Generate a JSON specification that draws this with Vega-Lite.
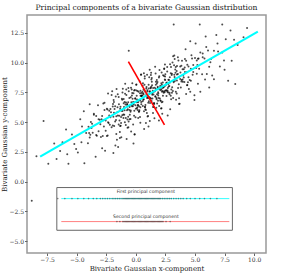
{
  "$schema": "https://vega.github.io/schema/vega-lite/v6.json",
  "autosize": {"type": "none"},
  "padding": {"left": 27, "top": 15, "right": 33, "bottom": 25},
  "width": 239,
  "height": 238,
  "title": {"text": "Principal components of a bivariate Gaussian distribution", "font": "DejaVu Serif", "fontSize": 7.6, "fontWeight": "normal", "color": "#222222", "offset": 3},
  "config": {
    "view": {"stroke": "#999999", "strokeWidth": 1.5},
    "axis": {"labelFont": "DejaVu Serif", "labelFontSize": 6, "labelColor": "#333333", "titleFont": "DejaVu Serif", "titleFontSize": 7, "titleFontWeight": "normal", "titleColor": "#222222", "tickSize": 2.5, "tickColor": "#666666", "domain": false, "grid": false, "labelPadding": 1, "labelOverlap": false, "labelFlush": false}
  },
  "datasets": {
    "pts": [
      {"x":-8.4,"y":2.14},{"x":-8.8,"y":-1.6},{"x":-7.8,"y":5.1},{"x":-7.4,"y":1.51},{"x":-6.9,"y":3.2},
      {"x":-6.4,"y":2.58},{"x":-5.9,"y":4.37},{"x":-5.7,"y":1.5},{"x":-6.2,"y":3.3},
      {"x":-5.4,"y":3.95},{"x":-4.9,"y":2.44},{"x":-4.7,"y":5.25},{"x":-5.2,"y":3.17},{"x":-4.55,"y":4.64},{"x":-5.05,"y":2.75},
      {"x":-4.4,"y":5.92},{"x":-3.9,"y":3.71},{"x":-3.7,"y":4.87},{"x":-4.2,"y":4.09},{"x":-3.55,"y":5.61},{"x":-4.05,"y":3.22},{"x":-3.8,"y":5.01},{"x":-4.35,"y":1.55},{"x":-4.0,"y":4.6},{"x":-3.65,"y":4.1},
      {"x":-3.4,"y":2.09},{"x":-2.9,"y":5.23},{"x":-2.7,"y":4.64},{"x":-3.2,"y":6.41},{"x":-2.55,"y":5.13},{"x":-3.05,"y":5.19},{"x":-2.8,"y":3.83},{"x":-3.35,"y":5.52},{"x":-3.0,"y":4.82},{"x":-2.65,"y":6.62},{"x":-3.15,"y":4.23},{"x":-2.75,"y":5.16},{"x":-3.3,"y":3.85},{"x":-2.85,"y":5.51},
      {"x":-2.4,"y":6.06},{"x":-1.9,"y":5.45},{"x":-1.7,"y":7.16},{"x":-2.2,"y":4.78},{"x":-1.55,"y":5.85},{"x":-2.05,"y":4.56},{"x":-1.8,"y":6.1},{"x":-2.35,"y":4.99},{"x":-2.0,"y":7.59},{"x":-1.65,"y":3.99},{"x":-2.15,"y":5.4},{"x":-1.75,"y":6.33},{"x":-2.3,"y":4.92},{"x":-1.85,"y":6.68},{"x":-1.6,"y":3.52},{"x":-2.25,"y":5.55},{"x":-1.95,"y":4.72},{"x":-2.45,"y":6.13},{"x":-1.52,"y":5.56},{"x":-2.1,"y":5.83},{"x":-2.38,"y":3.87},{"x":-1.88,"y":6.86},{"x":-1.68,"y":5.17},
      {"x":-1.4,"y":5.53},{"x":-0.9,"y":8.22},{"x":-0.7,"y":4.53},{"x":-1.2,"y":5.95},{"x":-0.55,"y":7.02},{"x":-1.05,"y":5.63},{"x":-0.8,"y":7.27},{"x":-1.35,"y":3.66},{"x":-1.0,"y":6.26},{"x":-0.65,"y":5.46},{"x":-1.15,"y":6.87},{"x":-0.75,"y":6.0},{"x":-1.3,"y":6.29},{"x":-0.85,"y":4.75},{"x":-0.6,"y":7.59},{"x":-1.25,"y":5.42},{"x":-0.95,"y":6.69},{"x":-1.45,"y":4.8},{"x":-0.52,"y":6.38},{"x":-1.1,"y":7.8},{"x":-1.38,"y":5.14},{"x":-0.88,"y":6.48},{"x":-0.68,"y":6.09},{"x":-1.18,"y":6.96},{"x":-0.53,"y":5.23},{"x":-1.03,"y":6.59},{"x":-0.78,"y":3.59},{"x":-1.33,"y":6.12},{"x":-0.98,"y":5.62},{"x":-0.63,"y":7.87},{"x":-1.13,"y":5.94},{"x":-0.73,"y":6.52},{"x":-1.28,"y":4.7},
      {"x":-0.4,"y":4.2},{"x":0.1,"y":6.89},{"x":0.3,"y":6.0},{"x":-0.2,"y":7.42},{"x":0.45,"y":6.69},{"x":-0.05,"y":7.0},{"x":0.2,"y":5.34},{"x":-0.35,"y":7.73},{"x":0.0,"y":6.13},{"x":0.35,"y":7.43},{"x":-0.15,"y":5.54},{"x":0.25,"y":6.82},{"x":-0.3,"y":8.26},{"x":0.15,"y":6.02},{"x":0.4,"y":7.21},{"x":-0.25,"y":6.34},{"x":0.05,"y":7.66},{"x":-0.45,"y":5.27},{"x":0.48,"y":7.45},{"x":-0.1,"y":3.97},{"x":-0.38,"y":6.66},{"x":0.13,"y":6.25},{"x":0.33,"y":8.41},{"x":-0.18,"y":6.48},{"x":0.47,"y":7.2},{"x":-0.03,"y":5.41},{"x":0.23,"y":7.56},{"x":-0.33,"y":6.34},{"x":0.03,"y":8.14},{"x":0.38,"y":6.24},{"x":-0.13,"y":6.66},{"x":0.28,"y":5.89},{"x":-0.28,"y":6.97},{"x":0.18,"y":6.43},{"x":0.43,"y":8.97},{"x":-0.23,"y":4.8},{"x":0.08,"y":6.67},{"x":-0.43,"y":7.09},{"x":0.46,"y":6.49},{"x":-0.08,"y":7.69},{"x":0.38,"y":4.95},
      {"x":0.6,"y":8.27},{"x":1.1,"y":6.76},{"x":1.3,"y":7.97},{"x":0.8,"y":6.09},{"x":1.45,"y":7.51},{"x":0.95,"y":8.97},{"x":1.2,"y":6.61},{"x":0.65,"y":7.35},{"x":1.0,"y":7.05},{"x":1.35,"y":8.4},{"x":0.85,"y":6.01},{"x":1.25,"y":7.89},{"x":0.7,"y":4.43},{"x":1.15,"y":7.54},{"x":1.4,"y":6.98},{"x":0.75,"y":8.66},{"x":1.05,"y":7.18},{"x":0.55,"y":7.24},{"x":1.48,"y":6.27},{"x":0.9,"y":7.94},{"x":0.63,"y":6.88},{"x":1.13,"y":8.77},{"x":1.33,"y":6.78},{"x":0.83,"y":7.2},{"x":1.47,"y":6.57},{"x":0.98,"y":7.68},{"x":1.23,"y":7.03},{"x":0.68,"y":9.11},{"x":1.03,"y":5.51},{"x":1.38,"y":7.41},{"x":0.88,"y":7.83},{"x":1.28,"y":6.96},{"x":0.73,"y":8.14},{"x":1.18,"y":5.1},{"x":1.43,"y":7.64},{"x":0.78,"y":6.27},{"x":1.08,"y":8.14},{"x":0.58,"y":6.76},{"x":1.46,"y":7.86},{"x":0.93,"y":5.76},{"x":0.61,"y":7.43},{"x":1.11,"y":7.01},{"x":1.31,"y":8.57},{"x":0.81,"y":6.44},
      {"x":1.6,"y":7.89},{"x":2.1,"y":7.68},{"x":2.3,"y":8.94},{"x":1.8,"y":6.56},{"x":2.45,"y":8.58},{"x":1.95,"y":5.14},{"x":2.2,"y":8.13},{"x":1.65,"y":7.12},{"x":2.0,"y":9.37},{"x":2.35,"y":7.92},{"x":1.85,"y":7.98},{"x":2.25,"y":6.71},{"x":1.7,"y":8.4},{"x":2.15,"y":7.76},{"x":2.4,"y":9.5},{"x":1.75,"y":7.03},{"x":2.05,"y":7.9},{"x":1.55,"y":6.61},{"x":2.48,"y":8.54},{"x":1.9,"y":7.41},{"x":1.63,"y":9.65},{"x":2.13,"y":6.14},{"x":2.33,"y":7.95},{"x":1.83,"y":8.37},{"x":2.47,"y":7.64},{"x":1.98,"y":8.85},{"x":2.23,"y":5.7},{"x":1.68,"y":7.78},{"x":2.03,"y":6.98},{"x":2.38,"y":8.88},{"x":1.88,"y":7.5},{"x":2.28,"y":8.33},{"x":1.73,"y":6.21},{"x":2.18,"y":9.17},{"x":2.43,"y":7.51},{"x":1.78,"y":8.24},{"x":2.08,"y":6.81},{"x":1.58,"y":7.58},{"x":2.46,"y":9.83},{"x":1.93,"y":7.03},{"x":2.21,"y":7.54},
      {"x":2.6,"y":7.66},{"x":3.1,"y":10.0},{"x":3.3,"y":8.46},{"x":2.8,"y":8.53},{"x":3.45,"y":7.4},{"x":2.95,"y":9.11},{"x":3.2,"y":8.35},{"x":2.65,"y":9.64},{"x":3.0,"y":7.74},{"x":3.35,"y":8.64},{"x":2.85,"y":7.35},{"x":3.25,"y":8.98},{"x":2.7,"y":7.87},{"x":3.15,"y":10.53},{"x":3.4,"y":6.87},{"x":2.75,"y":8.2},{"x":3.05,"y":9.07},{"x":2.55,"y":7.68},{"x":3.48,"y":9.71},{"x":2.9,"y":6.08},{"x":2.63,"y":8.32},{"x":3.13,"y":7.61},{"x":3.33,"y":9.42},{"x":2.83,"y":8.04},{"x":3.47,"y":9.01},{"x":2.98,"y":6.92},{"x":3.23,"y":9.77},{"x":2.68,"y":7.65},{"x":3.03,"y":8.95},{"x":3.38,"y":7.55},{"x":2.88,"y":8.32},{"x":3.28,"y":10.3},{"x":2.73,"y":7.48},
      {"x":3.6,"y":10.18},{"x":4.1,"y":8.37},{"x":4.3,"y":9.18},{"x":3.8,"y":7.9},{"x":4.45,"y":9.67},{"x":3.95,"y":8.58},{"x":4.2,"y":11.12},{"x":3.65,"y":7.01},{"x":4.0,"y":8.91},{"x":4.35,"y":9.81},{"x":3.85,"y":8.42},{"x":4.25,"y":10.15},{"x":3.7,"y":6.54},{"x":4.15,"y":9.2},{"x":4.4,"y":8.34},{"x":3.75,"y":9.67},{"x":4.05,"y":8.74},{"x":3.55,"y":9.05},{"x":4.48,"y":7.78},{"x":3.9,"y":10.15},{"x":3.63,"y":8.19},{"x":4.13,"y":9.58},{"x":4.33,"y":8.09},
      {"x":4.6,"y":7.55},{"x":5.1,"y":9.54},{"x":5.3,"y":10.35},{"x":4.8,"y":8.97},{"x":5.45,"y":10.84},{"x":4.95,"y":7.25},{"x":5.2,"y":9.79},{"x":4.65,"y":8.48},{"x":5.0,"y":10.38},{"x":5.35,"y":9.48},{"x":4.85,"y":9.79},{"x":5.25,"y":8.22},{"x":4.7,"y":10.61},{"x":5.15,"y":9.07},
      {"x":5.6,"y":9.02},{"x":6.1,"y":11.01},{"x":6.3,"y":10.02},{"x":5.8,"y":10.34},{"x":6.45,"y":8.91},{"x":5.95,"y":11.32},{"x":6.2,"y":9.66},{"x":5.65,"y":10.45},{"x":6.0,"y":9.05},{"x":6.35,"y":10.3},
      {"x":6.6,"y":10.99},{"x":7.1,"y":9.68},{"x":7.3,"y":10.84},{"x":6.8,"y":12.31},{"x":7.45,"y":10.18},{"x":6.95,"y":10.94},
      {"x":7.6,"y":11.96},{"x":8.1,"y":10.15},{"x":8.3,"y":11.91},{"x":7.8,"y":8.48},{"x":8.6,"y":11.48},{"x":9.1,"y":12.12},
      {"x":9.4,"y":12.9},{"x":3.2,"y":13.2},{"x":5.4,"y":13.2},{"x":7.3,"y":13.2},{"x":-0.6,"y":11.0},{"x":-1.9,"y":2.4},{"x":-0.2,"y":3.2},{"x":-1.5,"y":2.9},{"x":8.4,"y":8.2},{"x":7.5,"y":9.4},{"x":6.6,"y":8.6},
      {"x":5.9,"y":12.2},{"x":6.9,"y":11.6},{"x":8.0,"y":12.7},{"x":4.6,"y":11.8},{"x":6.2,"y":7.9},{"x":-5.8,"y":2.3},{"x":-6.7,"y":1.9},{"x":-4.6,"y":3.3},{"x":-3.9,"y":6.5},{"x":-2.6,"y":2.6},
      {"x":-2.95,"y":3.75},{"x":-2.75,"y":6.57},{"x":-2.55,"y":4.28},{"x":-2.35,"y":7.4},{"x":-2.15,"y":6.1},{"x":-2.85,"y":2.8},{"x":-2.65,"y":6.02},{"x":-2.45,"y":3.84},{"x":-2.25,"y":5.95},{"x":-2.05,"y":7.27},
      {"x":-1.95,"y":6.32},{"x":-1.75,"y":5.04},{"x":-1.55,"y":6.25},{"x":-1.35,"y":4.17},{"x":-1.15,"y":5.58},{"x":-1.85,"y":5.78},{"x":-1.65,"y":5.49},{"x":-1.45,"y":7.11},{"x":-1.25,"y":4.92},{"x":-1.05,"y":5.34},{"x":-1.93,"y":6.52},{"x":-1.73,"y":3.04},{"x":-1.53,"y":7.35},{"x":-1.33,"y":4.67},{"x":-1.13,"y":7.48},{"x":-1.83,"y":4.68},{"x":-1.63,"y":7.79},{"x":-1.43,"y":6.51},{"x":-1.23,"y":3.72},{"x":-1.03,"y":6.94},
      {"x":-0.95,"y":5.99},{"x":-0.75,"y":6.31},{"x":-0.55,"y":6.02},{"x":-0.35,"y":6.44},{"x":-0.15,"y":7.65},{"x":-0.85,"y":5.35},{"x":-0.65,"y":6.66},{"x":-0.45,"y":5.88},{"x":-0.25,"y":6.54},{"x":-0.05,"y":6.96},{"x":-0.93,"y":4.99},{"x":-0.73,"y":6.46},{"x":-0.53,"y":6.27},{"x":-0.33,"y":7.24},{"x":-0.13,"y":5.95},{"x":-0.83,"y":6.65},{"x":-0.63,"y":4.56},{"x":-0.43,"y":5.98},{"x":-0.23,"y":6.69},{"x":-0.03,"y":6.41},{"x":-0.91,"y":7.39},{"x":-0.71,"y":5.21},{"x":-0.51,"y":5.62},{"x":-0.31,"y":7.44},{"x":-0.11,"y":3.95},{"x":-0.81,"y":7.75},{"x":-0.61,"y":5.06},{"x":-0.41,"y":7.88},
      {"x":0.05,"y":8.16},{"x":0.25,"y":5.88},{"x":0.45,"y":8.99},{"x":0.65,"y":7.71},{"x":0.85,"y":4.92},{"x":0.15,"y":7.62},{"x":0.35,"y":5.43},{"x":0.55,"y":7.55},{"x":0.75,"y":8.86},{"x":0.95,"y":7.03},{"x":0.07,"y":7.21},{"x":0.27,"y":6.33},{"x":0.47,"y":7.19},{"x":0.67,"y":6.91},{"x":0.87,"y":7.22},{"x":0.17,"y":6.42},{"x":0.37,"y":6.83},{"x":0.57,"y":8.05},{"x":0.77,"y":6.26},{"x":0.97,"y":7.58},{"x":0.09,"y":6.16},{"x":0.29,"y":6.83},{"x":0.49,"y":7.24},{"x":0.69,"y":5.91},{"x":0.89,"y":7.37},{"x":0.19,"y":6.67},{"x":0.39,"y":7.63},{"x":0.59,"y":6.35},{"x":0.79,"y":7.56},{"x":0.99,"y":5.48},
      {"x":1.05,"y":6.63},{"x":1.25,"y":7.85},{"x":1.45,"y":5.76},{"x":1.65,"y":7.18},{"x":1.85,"y":7.89},{"x":1.15,"y":7.09},{"x":1.35,"y":8.7},{"x":1.55,"y":6.52},{"x":1.75,"y":6.93},{"x":1.95,"y":8.75},{"x":1.07,"y":4.63},{"x":1.27,"y":8.95},{"x":1.47,"y":6.26},{"x":1.67,"y":9.08},{"x":1.87,"y":6.79},{"x":1.17,"y":9.39},{"x":1.37,"y":8.1},{"x":1.57,"y":5.32},{"x":1.77,"y":8.53},{"x":1.97,"y":6.35},{"x":1.09,"y":7.83},{"x":1.29,"y":9.15},{"x":1.49,"y":7.31},{"x":1.69,"y":8.13},{"x":1.89,"y":7.24},{"x":1.19,"y":7.59},{"x":1.39,"y":7.3},{"x":1.59,"y":7.62},{"x":1.79,"y":7.33},{"x":1.99,"y":7.75},
      {"x":2.05,"y":7.9},{"x":2.25,"y":7.62},{"x":2.45,"y":8.03},{"x":2.65,"y":9.25},{"x":2.85,"y":7.46},{"x":2.15,"y":8.26},{"x":2.35,"y":7.47},{"x":2.55,"y":8.14},{"x":2.75,"y":8.55},{"x":2.95,"y":7.22},{"x":2.07,"y":8.05},{"x":2.27,"y":7.87},{"x":2.47,"y":8.83},{"x":2.67,"y":7.55},{"x":2.87,"y":8.76},{"x":2.17,"y":6.16},{"x":2.37,"y":7.57},{"x":2.57,"y":8.29},{"x":2.77,"y":8.0},{"x":2.97,"y":9.62},{"x":2.09,"y":6.8},{"x":2.29,"y":7.22},{"x":2.49,"y":9.03},{"x":2.69,"y":5.55},{"x":2.89,"y":9.86},{"x":2.19,"y":6.66},{"x":2.39,"y":9.47},{"x":2.59,"y":7.19},
      {"x":3.05,"y":7.47},{"x":3.25,"y":10.59},{"x":3.45,"y":9.3},{"x":3.65,"y":6.52},{"x":3.85,"y":9.73},{"x":3.15,"y":7.03},{"x":3.35,"y":9.14},{"x":3.55,"y":10.46},{"x":3.75,"y":8.62},{"x":3.95,"y":9.44},{"x":3.07,"y":7.92},{"x":3.27,"y":8.79},{"x":3.47,"y":8.5},{"x":3.67,"y":8.82},{"x":3.87,"y":8.53},{"x":3.17,"y":8.43},{"x":3.37,"y":9.64},{"x":3.57,"y":7.86},{"x":3.77,"y":9.17},{"x":3.97,"y":8.39},
      {"x":4.05,"y":9.44},{"x":4.25,"y":7.36},{"x":4.45,"y":8.77},{"x":4.65,"y":9.49},{"x":4.85,"y":9.2},{"x":4.15,"y":10.3},{"x":4.35,"y":8.11},{"x":4.55,"y":8.53},{"x":4.75,"y":10.34},{"x":4.95,"y":6.86},
      {"x":-3.95,"y":4.08},{"x":-3.75,"y":4.5},{"x":-3.55,"y":5.71},{"x":-3.35,"y":3.92},{"x":-3.15,"y":5.24},{"x":-3.85,"y":3.94},
      {"x":5.05,"y":11.61},{"x":5.25,"y":10.33},{"x":5.45,"y":7.54},{"x":5.65,"y":10.76},{"x":5.85,"y":8.57},{"x":5.15,"y":10.17}
    ],
    "proj": [
      {"x":-6.6,"y":-1.43},{"x":-6.0,"y":-1.43},{"x":-5.4,"y":-1.43},{"x":-4.9,"y":-1.43},{"x":-4.4,"y":-1.43},{"x":-4.0,"y":-1.43},{"x":-3.6,"y":-1.43},{"x":-3.3,"y":-1.43},{"x":-3.0,"y":-1.43},{"x":-2.8,"y":-1.43},{"x":-2.6,"y":-1.43},{"x":-2.4,"y":-1.43},{"x":-2.2,"y":-1.43},{"x":-2.0,"y":-1.43},{"x":-1.85,"y":-1.43},{"x":-1.7,"y":-1.43},{"x":-1.55,"y":-1.43},{"x":-1.4,"y":-1.43},{"x":-1.25,"y":-1.43},{"x":-1.1,"y":-1.43},{"x":-1.0,"y":-1.43},{"x":-0.9,"y":-1.43},{"x":-0.8,"y":-1.43},{"x":-0.7,"y":-1.43},{"x":-0.6,"y":-1.43},{"x":-0.5,"y":-1.43},{"x":-0.4,"y":-1.43},{"x":-0.3,"y":-1.43},{"x":-0.2,"y":-1.43},{"x":-0.1,"y":-1.43},{"x":0.0,"y":-1.43},{"x":0.1,"y":-1.43},{"x":0.2,"y":-1.43},{"x":0.3,"y":-1.43},{"x":0.4,"y":-1.43},{"x":0.5,"y":-1.43},{"x":0.6,"y":-1.43},{"x":0.7,"y":-1.43},{"x":0.8,"y":-1.43},{"x":0.9,"y":-1.43},{"x":1.0,"y":-1.43},{"x":1.1,"y":-1.43},{"x":1.2,"y":-1.43},{"x":1.3,"y":-1.43},{"x":1.4,"y":-1.43},{"x":1.5,"y":-1.43},{"x":1.6,"y":-1.43},{"x":1.7,"y":-1.43},{"x":1.8,"y":-1.43},{"x":1.9,"y":-1.43},{"x":2.0,"y":-1.43},{"x":2.1,"y":-1.43},{"x":2.25,"y":-1.43},{"x":2.4,"y":-1.43},{"x":2.55,"y":-1.43},{"x":2.7,"y":-1.43},{"x":2.85,"y":-1.43},{"x":3.0,"y":-1.43},{"x":3.2,"y":-1.43},{"x":3.4,"y":-1.43},{"x":3.6,"y":-1.43},{"x":3.8,"y":-1.43},{"x":4.0,"y":-1.43},{"x":4.3,"y":-1.43},{"x":4.6,"y":-1.43},{"x":5.0,"y":-1.43},{"x":5.4,"y":-1.43},{"x":5.8,"y":-1.43},{"x":6.3,"y":-1.43},{"x":6.85,"y":-1.43},
      {"x":-1.6,"y":-3.36},{"x":-1.35,"y":-3.36},{"x":-1.1,"y":-3.36},{"x":-1.0,"y":-3.36},{"x":-0.9,"y":-3.36},{"x":-0.8,"y":-3.36},{"x":-0.7,"y":-3.36},{"x":-0.6,"y":-3.36},{"x":-0.5,"y":-3.36},{"x":-0.4,"y":-3.36},{"x":-0.3,"y":-3.36},{"x":-0.2,"y":-3.36},{"x":-0.1,"y":-3.36},{"x":0.0,"y":-3.36},{"x":0.1,"y":-3.36},{"x":0.2,"y":-3.36},{"x":0.3,"y":-3.36},{"x":0.4,"y":-3.36},{"x":0.5,"y":-3.36},{"x":0.6,"y":-3.36},{"x":0.7,"y":-3.36},{"x":0.8,"y":-3.36},{"x":0.9,"y":-3.36},{"x":1.0,"y":-3.36},{"x":1.1,"y":-3.36},{"x":1.2,"y":-3.36},{"x":1.3,"y":-3.36},{"x":1.4,"y":-3.36},{"x":1.5,"y":-3.36},{"x":1.6,"y":-3.36},{"x":1.7,"y":-3.36},{"x":1.8,"y":-3.36},{"x":1.9,"y":-3.36},{"x":2.0,"y":-3.36},{"x":2.1,"y":-3.36},{"x":2.2,"y":-3.36},{"x":2.3,"y":-3.36},{"x":2.55,"y":-3.36},{"x":2.9,"y":-3.36}
    ]
  },
  "encoding": {
    "x": {"field": "x", "type": "quantitative", "scale": {"domain": [-9.2, 11.0], "nice": false, "zero": false}, "axis": {"values": [-7.5, -5, -2.5, 0, 2.5, 5, 7.5, 10], "format": ".1f", "title": "Bivariate Gaussian x-component", "titlePadding": 1.5, "labelOverlap": false}},
    "y": {"field": "y", "type": "quantitative", "scale": {"domain": [-6.0, 14.0], "nice": false, "zero": false}, "axis": {"values": [-5, -2.5, 0, 2.5, 5, 7.5, 10, 12.5], "format": ".1f", "title": "Bivariate Gaussian y-component", "titlePadding": 1, "labelOverlap": false}}
  },
  "layer": [
    {
      "data": {"name": "pts"},
      "mark": {"type": "circle", "size": 4, "color": "black", "opacity": 0.7}
    },
    {
      "data": {"values": [{"x": -8.09, "y": 2.1}, {"x": 10.31, "y": 12.6}]},
      "mark": {"type": "line", "color": "#00ffff", "strokeWidth": 2.2}
    },
    {
      "data": {"values": [{"x": -0.63, "y": 10.08}, {"x": 2.42, "y": 4.76}]},
      "mark": {"type": "line", "color": "#ff0000", "strokeWidth": 1.6}
    },
    {
      "data": {"values": [{"x": -6.68, "x2": 8.16, "y": -0.5, "y2": -4.09}]},
      "mark": {"type": "rect", "fill": "white", "stroke": "#666666", "strokeWidth": 1},
      "encoding": {"x2": {"field": "x2"}, "y2": {"field": "y2"}}
    },
    {
      "data": {"values": [{"x": -6.3, "x2": 7.9, "y": -1.43, "pc": "first"}, {"x": -6.3, "x2": 7.9, "y": -3.36, "pc": "second"}]},
      "mark": {"type": "rule", "strokeWidth": 1},
      "encoding": {"x2": {"field": "x2"}, "color": {"field": "pc", "type": "nominal", "scale": {"domain": ["first", "second"], "range": ["#33ffff", "#ff8080"]}, "legend": null}}
    },
    {
      "data": {"name": "proj"},
      "mark": {"type": "circle", "size": 2.5, "color": "#333333", "opacity": 0.6}
    },
    {
      "data": {"values": [{"x": 0.85, "y": -0.87, "label": "First principal component"}, {"x": 0.85, "y": -2.94, "label": "Second principal component"}]},
      "mark": {"type": "text", "font": "DejaVu Sans", "fontSize": 4.6, "color": "#333333", "baseline": "middle", "align": "center"},
      "encoding": {"text": {"field": "label"}}
    }
  ]
}
